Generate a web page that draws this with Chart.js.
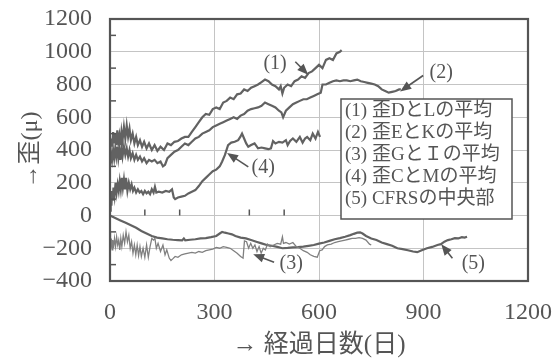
<!DOCTYPE html>
<html lang="ja">
<head>
<meta charset="utf-8">
<script src="https://cdn.jsdelivr.net/npm/chart.js@4.4.1/dist/chart.umd.min.js"></script>
<style>
  html, body { margin: 0; padding: 0; background: #fff; }
</style>
</head>
<body>
<canvas id="grafico" width="553" height="361"></canvas>
<script>
// ===== Datos =====
const ticksEjeX = [0, 300, 600, 900, 1200];
const ticksEjeY = [-400, -200, 0, 200, 400, 600, 800, 1000, 1200];
const marcasMenoresX = [100, 200, 400, 500, 700, 800, 1000, 1100];
const marcasMenoresY = [-300, -100, 100, 300, 500, 700, 900, 1100];

const nombresSerie = ["(1) 歪DとLの平均", "(2) 歪EとKの平均", "(3) 歪GとＩの平均", "(4) 歪CとMの平均", "(5) CFRSの中央部"];

// (1) 歪DとL
const dias1 = [0,3,6,9,12,15,18,21,24,27,30,33,36,40,44,48,52,56,60,65,70,75,80,86,92,98,105,112,120,128,136,145,155,165,175,185,195,205,215,225,235,245,255,265,275,285,295,305,315,325,335,345,355,365,375,385,395,405,415,425,435,445,455,465,475,485,490,495,500,510,520,530,540,550,560,570,580,590,600,610,620,630,640,650,660,665];
const valores1 = [380,470,420,510,440,500,430,520,450,490,430,510,460,540,470,550,480,530,460,500,440,480,430,460,420,450,410,440,400,430,395,420,400,440,430,450,455,470,480,480,510,540,570,600,620,615,650,660,650,690,700,720,710,740,745,770,760,780,790,800,815,830,820,800,790,770,790,745,780,800,790,820,830,850,840,870,880,900,920,900,950,960,950,990,1000,1010];

// (2) 歪EとK
const dias2 = [0,3,6,9,12,15,18,21,24,27,30,33,36,40,44,48,52,56,60,65,70,75,80,86,92,98,105,112,120,128,136,145,152,158,165,175,185,195,205,215,225,235,245,255,265,275,285,295,305,315,325,335,345,355,365,375,385,395,405,415,425,435,445,455,465,475,485,492,497,505,515,525,535,545,555,565,575,585,595,605,610,620,630,640,650,660,670,680,690,700,710,720,730,740,750,760,770,780,790,800,810,820,830,835];
const valores2 = [300,380,340,400,350,410,360,420,350,400,340,410,360,420,370,410,360,400,350,380,340,370,340,360,330,350,320,340,330,340,320,330,300,310,350,370,390,400,420,440,430,450,470,480,500,510,520,540,550,560,570,580,590,600,590,610,620,640,650,655,660,670,690,680,670,660,640,630,600,640,660,680,690,700,710,710,720,730,740,750,800,800,810,820,825,820,825,825,820,825,830,820,815,810,805,800,790,770,760,750,755,760,770,770];

// (3) 歪GとＩ
const dias3 = [0,1,2,4,6,8,10,13,16,19,22,25,28,31,34,38,42,46,50,54,58,62,66,70,74,78,82,86,90,95,100,105,110,115,120,125,129,133,138,145,152,158,163,170,175,180,187,195,205,215,225,235,245,255,265,275,285,295,305,315,325,335,345,355,365,375,382,386,392,398,404,410,416,422,428,434,440,446,452,460,470,480,490,495,498,505,515,525,535,545,555,566,575,585,595,602,609,616,624,635,645,655,665,675,685,695,705,715,725,735,745,750];
const valores3 = [-100,-100,-200,-140,-210,-150,-200,-140,-190,-130,-180,-150,-210,-140,-190,-120,-170,-100,-160,-120,-200,-160,-230,-180,-240,-180,-245,-190,-250,-200,-255,-180,-255,-190,-140,-150,-140,-200,-170,-220,-180,-240,-210,-260,-275,-265,-250,-255,-240,-235,-230,-225,-230,-220,-225,-215,-210,-205,-195,-200,-190,-195,-200,-215,-230,-250,-260,-155,-160,-200,-170,-200,-180,-220,-190,-230,-200,-210,-175,-190,-180,-170,-175,-130,-170,-165,-175,-165,-190,-200,-215,-225,-240,-250,-255,-215,-210,-190,-180,-175,-165,-160,-155,-150,-145,-140,-140,-135,-140,-150,-175,-180];

// (4) 歪CとM
const dias4 = [0,2,4,6,8,10,13,16,19,22,25,28,31,34,37,40,43,46,50,54,58,62,66,70,75,80,85,90,95,100,105,110,115,120,125,129,133,140,150,160,170,178,183,187,195,205,215,225,235,245,255,265,275,285,295,305,315,322,330,339,348,358,368,374,379,385,391,397,405,415,425,435,445,455,462,468,475,485,495,505,510,517,525,535,545,553,560,566,575,582,590,597,603];
const valores4 = [30,100,60,150,90,170,120,200,140,190,150,210,160,230,170,220,160,230,150,200,160,190,150,170,140,160,140,150,130,150,135,145,130,160,140,175,140,145,140,150,145,160,110,100,110,115,120,135,145,155,180,210,230,250,270,280,300,330,370,430,445,450,460,480,500,470,440,420,430,440,410,415,410,405,410,455,440,450,445,460,430,455,470,450,480,445,470,480,460,500,470,510,480];

// (5) CFRSの中央部
const dias5 = [0,15,30,45,60,75,90,105,120,135,150,165,180,195,207,212,216,230,245,260,275,290,305,315,322,330,340,350,360,375,390,405,420,435,450,465,480,495,510,525,540,555,570,585,600,615,630,645,660,675,690,700,710,718,725,735,750,765,780,795,810,825,840,855,870,882,895,910,925,940,950,960,970,980,990,1000,1010,1018,1025];
const valores5 = [0,-15,-30,-45,-60,-75,-95,-110,-125,-135,-140,-145,-148,-150,-152,-140,-152,-148,-145,-140,-138,-132,-125,-110,-100,-105,-110,-115,-125,-135,-140,-150,-160,-170,-180,-185,-192,-200,-198,-195,-193,-190,-185,-180,-172,-165,-155,-145,-138,-130,-120,-112,-105,-103,-110,-125,-140,-150,-165,-175,-185,-200,-205,-212,-220,-224,-212,-200,-192,-180,-175,-160,-150,-145,-138,-140,-132,-135,-130];

// ===== Utilidades =====
const FUENTE = "'Liberation Serif', 'Noto Sans CJK JP', serif";
const GRIS = "#555";
function puntos(dias, valores) { return dias.map((x, i) => ({ x, y: valores[i] })); }
function formatearTick(v) { return String(v).replace("-", "\u2212"); }

// notas (1)..(5): texto, posición del texto y flecha, en coordenadas de datos
const notas = [
  { t: "(1)", x: 474, y: 927, de: [532, 939], a: [569, 860] },
  { t: "(2)", x: 951, y: 873, de: [899, 855], a: [833, 758] },
  { t: "(3)", x: 520, y: -297, de: [471, -285], a: [411, -236] },
  { t: "(4)", x: 440, y: 291, de: [397, 297], a: [336, 382] },
  { t: "(5)", x: 1043, y: -297, de: [983, -261], a: [951, -176] }
];

function flecha(ctx, x0, y0, x1, y1) {
  const ang = Math.atan2(y1 - y0, x1 - x0), L = 11, W = 4.5;
  const c = Math.cos(ang), s = Math.sin(ang);
  ctx.beginPath(); ctx.moveTo(x0, y0); ctx.lineTo(x1 - L * 0.7 * c, y1 - L * 0.7 * s); ctx.stroke();
  ctx.beginPath();
  ctx.moveTo(x1, y1);
  ctx.lineTo(x1 - L * c + W * s, y1 - L * s - W * c);
  ctx.lineTo(x1 - L * c - W * s, y1 - L * s + W * c);
  ctx.closePath(); ctx.fill();
}

// ===== Plugin: marco, marcas menores, leyenda y notas =====
const pluginMarco = {
  id: "marco",
  afterDatasetsDraw(chart) {
    const { ctx, chartArea: a, scales: { x, y } } = chart;
    ctx.save();
    ctx.strokeStyle = GRIS; ctx.fillStyle = GRIS;

    ctx.lineWidth = 1.5;
    marcasMenoresY.forEach(v => {
      const py = y.getPixelForValue(v);
      ctx.beginPath(); ctx.moveTo(a.left, py); ctx.lineTo(a.left + 6, py); ctx.stroke();
    });
    const y0 = y.getPixelForValue(0);
    marcasMenoresX.forEach(v => {
      const px = x.getPixelForValue(v);
      ctx.beginPath(); ctx.moveTo(px, y0); ctx.lineTo(px, y0 - 6); ctx.stroke();
    });

    // leyenda
    const caja = { l: 341, t: 99, r: 512, b: 219 };
    ctx.fillStyle = "#fff";
    ctx.fillRect(caja.l, caja.t, caja.r - caja.l, caja.b - caja.t);
    ctx.lineWidth = 1.5; ctx.strokeRect(caja.l, caja.t, caja.r - caja.l, caja.b - caja.t);
    ctx.fillStyle = GRIS;
    ctx.font = "19px " + FUENTE;
    ctx.textBaseline = "middle"; ctx.textAlign = "left";
    nombresSerie.forEach((n, i) => ctx.fillText(n, caja.l + 4, caja.t + 12 + i * 22));

    // notas
    ctx.font = "20px " + FUENTE;
    ctx.textAlign = "center";
    ctx.lineWidth = 1.6;
    notas.forEach(n => {
      ctx.fillText(n.t, x.getPixelForValue(n.x), y.getPixelForValue(n.y));
      flecha(ctx, x.getPixelForValue(n.de[0]), y.getPixelForValue(n.de[1]),
                  x.getPixelForValue(n.a[0]), y.getPixelForValue(n.a[1]));
    });

    // marco
    ctx.lineWidth = 2.2;
    ctx.strokeRect(a.left, a.top, a.right - a.left, a.bottom - a.top);
    ctx.restore();
  }
};

// ===== Gráfico =====
const series = [[dias1, valores1], [dias2, valores2], [dias3, valores3], [dias4, valores4], [dias5, valores5]];
const datasets = series.map(([d, v], i) => ({
  label: nombresSerie[i],
  data: puntos(d, v),
  borderColor: i === 2 ? "#808080" : "#626262",
  borderWidth: i === 2 ? 1.3 : 2.2,
  pointRadius: 0,
  tension: 0,
  fill: false
}));

new Chart(document.getElementById("grafico"), {
  type: "line",
  data: { datasets },
  options: {
    responsive: false,
    animation: false,
    devicePixelRatio: 1,
    layout: { padding: { top: 19, right: 25, left: 0, bottom: 0 } },
    plugins: { legend: { display: false }, tooltip: { enabled: false } },
    scales: {
      x: {
        type: "linear", min: 0, max: 1200,
        afterBuildTicks: s => { s.ticks = ticksEjeX.map(value => ({ value })); },
        afterFit: s => { s.height = 80; s.paddingLeft = 0; s.paddingRight = 0; },
        ticks: { color: GRIS, font: { family: FUENTE, size: 24 }, padding: 17, maxRotation: 0, autoSkip: false, callback: formatearTick },
        grid: { color: "#c4c4c4", lineWidth: 1, drawTicks: false },
        border: { display: false },
        title: { display: true, text: "→ 経過日数(日)", color: GRIS, font: { family: FUENTE, size: 25 }, padding: { top: 0, bottom: 1 } }
      },
      y: {
        type: "linear", min: -400, max: 1200,
        afterBuildTicks: s => { s.ticks = ticksEjeY.map(value => ({ value })); },
        afterFit: s => { s.width = 110; s.paddingTop = 0; s.paddingBottom = 0; },
        ticks: { color: GRIS, font: { family: FUENTE, size: 24 }, padding: 18, autoSkip: false, callback: formatearTick },
        grid: { color: "#c4c4c4", lineWidth: 1, drawTicks: false },
        border: { display: false },
        title: { display: true, text: "→歪(μ)", color: GRIS, font: { family: FUENTE, size: 24 }, padding: { top: 16, bottom: 0 } }
      }
    }
  },
  plugins: [pluginMarco]
});
</script>
</body>
</html>
